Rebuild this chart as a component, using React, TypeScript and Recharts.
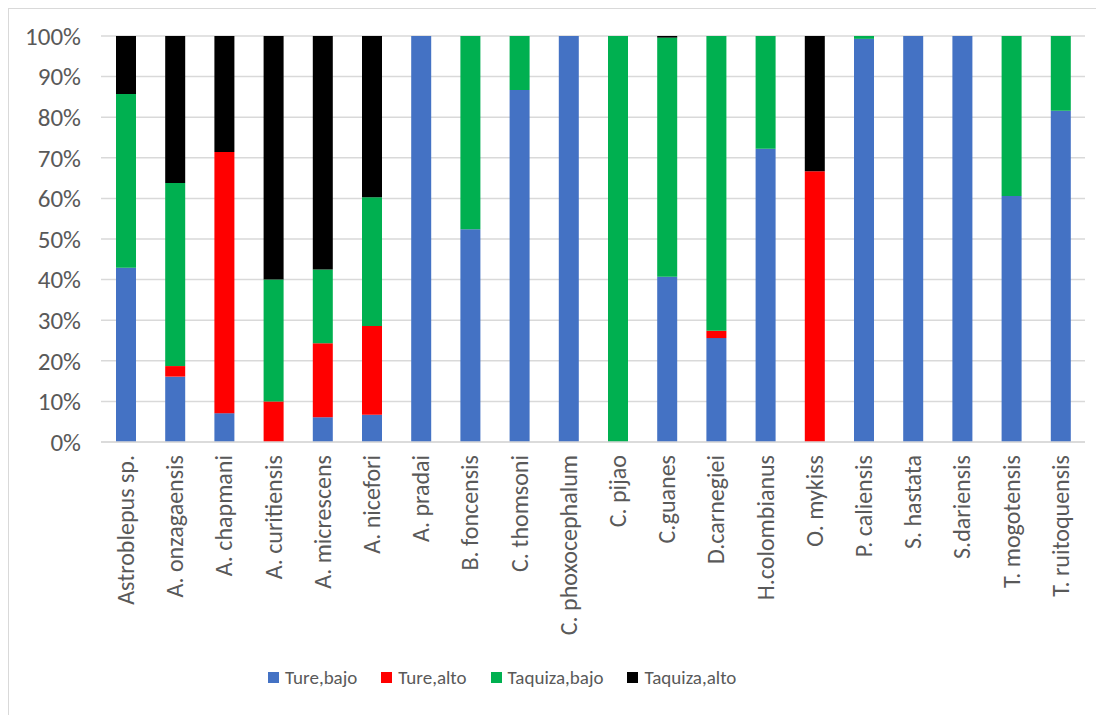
import { Bar, BarChart, CartesianGrid, Legend, XAxis, YAxis } from "recharts"

const species = [
  "Astroblepus sp.",
  "A. onzagaensis",
  "A. chapmani",
  "A. curitiensis",
  "A. micrescens",
  "A. nicefori",
  "A. pradai",
  "B. foncensis",
  "C. thomsoni",
  "C. phoxocephalum",
  "C. pijao",
  "C.guanes",
  "D.carnegiei",
  "H.colombianus",
  "O. mykiss",
  "P. caliensis",
  "S. hastata",
  "S.dariensis",
  "T. mogotensis",
  "T. ruitoquensis",
]

const tureBajo = [42.9, 16.1, 7.1, 0, 6.1, 6.7, 100, 52.4, 86.7, 100, 0, 40.7, 25.6, 72.2, 0, 99.3, 100, 100, 60.6, 81.6]
const tureAlto = [0, 2.6, 64.3, 10, 18.2, 21.9, 0, 0, 0, 0, 0, 0, 1.8, 0, 66.7, 0, 0, 0, 0, 0]
const taquizaBajo = [42.8, 45.1, 0, 30, 18.2, 31.7, 0, 47.6, 13.3, 0, 100, 58.9, 72.6, 27.8, 0, 0.7, 0, 0, 39.4, 18.4]
const taquizaAlto = [14.3, 36.2, 28.6, 60, 57.5, 39.7, 0, 0, 0, 0, 0, 0.4, 0, 0, 33.3, 0, 0, 0, 0, 0]

const yTicks = [0, 10, 20, 30, 40, 50, 60, 70, 80, 90, 100]

const series = [
  { key: "tureBajo", name: "Ture,bajo", color: "#4472C4" },
  { key: "tureAlto", name: "Ture,alto", color: "#FF0000" },
  { key: "taquizaBajo", name: "Taquiza,bajo", color: "#00B050" },
  { key: "taquizaAlto", name: "Taquiza,alto", color: "#000000" },
]

const data = species.map((name, i) => ({
  name,
  tureBajo: tureBajo[i],
  tureAlto: tureAlto[i],
  taquizaBajo: taquizaBajo[i],
  taquizaAlto: taquizaAlto[i],
}))

const font = "Calibri, Carlito, 'Liberation Sans', Arial, sans-serif"

function SpeciesTick(props: any) {
  const { x, y, payload } = props
  return (
    <text
      x={x}
      y={y}
      transform={`rotate(-90 ${x} ${y})`}
      textAnchor="end"
      dy="0.35em"
      fill="#595959"
      fontSize={24}
      fontFamily={font}
    >
      {payload.value}
    </text>
  )
}

function LegendBox() {
  return (
    <div style={{ display: "flex", alignItems: "center", fontFamily: font, fontSize: 19, color: "#595959" }}>
      {series.map((s) => (
        <div key={s.key} style={{ display: "flex", alignItems: "center", marginRight: 24 }}>
          <span style={{ width: 11, height: 11, background: s.color, marginRight: 6, display: "inline-block" }} />
          <span>{s.name}</span>
        </div>
      ))}
    </div>
  )
}

export default function App() {
  return (
    <div style={{ width: 1100, height: 710, border: "1px solid #d9d9d9", background: "#fff" }}>
      <BarChart
        width={1096}
        height={700}
        data={data}
        margin={{ top: 27, right: 20, left: 0, bottom: 0 }}
        barSize={20}
      >
        <CartesianGrid vertical={false} stroke="#d9d9d9" strokeWidth={1.5} />
        <XAxis
          dataKey="name"
          interval={0}
          tickLine={false}
          axisLine={{ stroke: "#d9d9d9", strokeWidth: 1.5 }}
          tickSize={0}
          tickMargin={13}
          height={217}
          tick={<SpeciesTick />}
        />
        <YAxis
          width={92}
          domain={[0, 100]}
          ticks={yTicks}
          tickFormatter={(v) => `${v}%`}
          axisLine={false}
          tickLine={false}
          tickMargin={14}
          tick={{ fill: "#595959", fontSize: 25, fontFamily: font }}
        />
        <Legend
          verticalAlign="bottom"
          height={50}
          content={() => <LegendBox />}
          wrapperStyle={{ left: 259, top: 657, width: "auto" }}
        />
        {series.map((s) => (
          <Bar key={s.key} dataKey={s.key} name={s.name} stackId="a" fill={s.color} isAnimationActive={false} />
        ))}
      </BarChart>
    </div>
  )
}
